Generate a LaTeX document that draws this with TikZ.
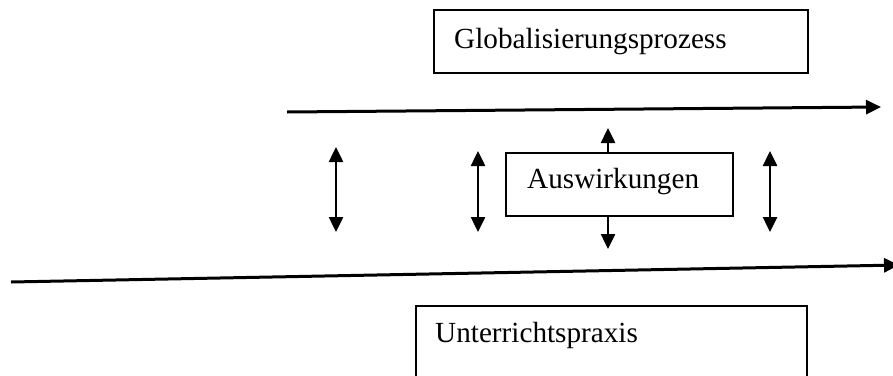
\documentclass[tikz,border=0pt]{standalone}
\usepackage{fontspec}
\setmainfont{Liberation Serif}
\usetikzlibrary{arrows.meta}
\begin{document}
\begin{tikzpicture}[x=1pt,y=-1pt,
  box/.style={draw=black,line width=2pt,rectangle,inner sep=0pt,anchor=north west},
  lbl/.style={anchor=base west,inner sep=0pt,font=\fontsize{29.2}{34}\selectfont},
  tip/.style={-{Triangle[length=15pt,width=14pt]}},
  conn/.style={line width=2.5pt,tip},
  dbl/.style={line width=2.5pt,{Triangle[length=15pt,width=14pt]}-{Triangle[length=15pt,width=14pt]}}]
\useasboundingbox (0,0) rectangle (893,375);
\clip (0,0) rectangle (893,375);
% boxes
\node[box,minimum width=374pt,minimum height=63pt] (glob) at (433,9) {};
\node[lbl] (globtxt) at (454,48) {Globalisierungsprozess};
\node[box,minimum width=227pt,minimum height=63pt] (ausw) at (505,152) {};
\node[lbl] (auswtxt) at (527,188) {Auswirkungen};
\node[box,minimum width=391pt,minimum height=120pt] (unt) at (415,305) {};
\node[lbl] (unttxt) at (435,342) {Unterrichtspraxis};
% long arrows
\coordinate (t1) at (287,112);
\coordinate (t2) at (881,107);
\draw[conn,line width=3pt] (t1) -- (t2);
\coordinate (b1) at (11,282);
\coordinate (b2) at (899,265);
\draw[conn,line width=3pt] (b1) -- (b2);
% double arrows
\coordinate (d1a) at (336,147); \coordinate (d1b) at (336,232);
\coordinate (d2a) at (478,151); \coordinate (d2b) at (478,232);
\coordinate (d3a) at (770,151); \coordinate (d3b) at (770,232);
\draw[dbl] (d1a) -- (d1b);
\draw[dbl] (d2a) -- (d2b);
\draw[dbl] (d3a) -- (d3b);
% small arrows from Auswirkungen
\coordinate (up) at (608,128);
\coordinate (dn) at (608,249);
\draw[conn] (ausw.north west -| up) -- (up);
\draw[conn] (ausw.south west -| dn) -- (dn);
\end{tikzpicture}
\end{document}
